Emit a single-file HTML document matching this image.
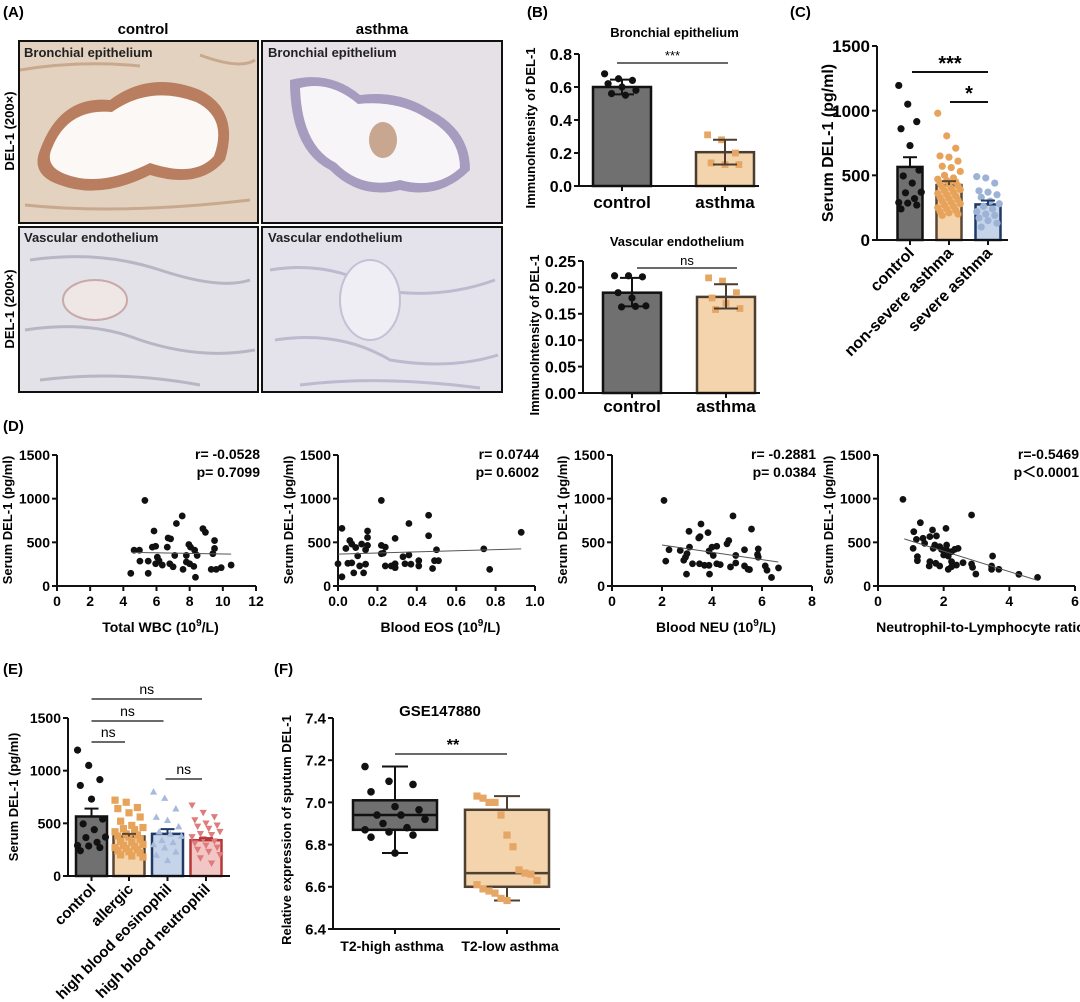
<!DOCTYPE html>
<html><head><meta charset="utf-8"><style>
html,body{margin:0;padding:0;background:#fff;}
svg{display:block;font-family:"Liberation Sans",Arial,sans-serif;font-weight:bold;}
</style></head><body>
<svg id="fig" width="1080" height="1002" viewBox="0 0 1080 1002" xmlns="http://www.w3.org/2000/svg">
<g>
<text x="3" y="17" font-size="15">(A)</text>
<text x="143" y="34" font-size="15" text-anchor="middle">control</text>
<text x="382" y="34" font-size="15" text-anchor="middle">asthma</text>
<text transform="translate(14,131) rotate(-90)" font-size="13" text-anchor="middle">DEL-1 (200×)</text>
<text transform="translate(14,309) rotate(-90)" font-size="13" text-anchor="middle">DEL-1 (200×)</text>
<g>
<rect x="19" y="41" width="239" height="182" fill="#e3d2c0"/>
<path d="M40 150 Q60 95 110 100 Q150 70 200 90 Q240 110 225 160 Q200 190 150 175 Q100 200 60 185 Q30 175 40 150Z" fill="#b0704e" opacity="0.85"/>
<path d="M52 148 Q68 108 112 112 Q150 85 196 102 Q228 118 214 156 Q195 178 150 163 Q100 188 65 174 Q44 166 52 148Z" fill="#fbf8f5"/>
<path d="M20 70 Q80 60 140 66 M25 205 Q120 215 250 200 M200 55 Q240 70 255 60" stroke="#c9a98e" stroke-width="3" fill="none"/>
<rect x="19" y="41" width="239" height="182" fill="none" stroke="#111" stroke-width="2"/>
<text x="24" y="57" font-size="13" fill="#222">Bronchial epithelium</text>
</g>
<g>
<rect x="262" y="41" width="240" height="182" fill="#e5e1e7"/>
<path d="M290 80 Q330 70 360 95 Q400 90 430 110 Q470 130 470 170 Q440 200 400 190 Q360 200 330 170 Q290 150 290 80Z" fill="#8a7fae" opacity="0.7"/>
<path d="M300 88 Q330 80 358 104 Q398 100 426 118 Q460 136 460 168 Q436 190 400 180 Q362 190 336 163 Q302 146 300 88Z" fill="#f7f5f8"/>
<ellipse cx="383" cy="140" rx="14" ry="18" fill="#c8a690"/>
<rect x="262" y="41" width="240" height="182" fill="none" stroke="#111" stroke-width="2"/>
<text x="268" y="57" font-size="13" fill="#222">Bronchial epithelium</text>
</g>
<g>
<rect x="19" y="227" width="239" height="165" fill="#e2e2e8"/>
<path d="M30 260 Q100 250 160 270 Q220 290 250 280 M25 330 Q90 320 140 340 Q200 360 255 350 M40 380 Q120 370 200 385" stroke="#b9b6c4" stroke-width="3" fill="none"/>
<ellipse cx="95" cy="300" rx="32" ry="20" fill="#efe6e6" stroke="#c9a9a9" stroke-width="2"/>
<rect x="19" y="227" width="239" height="165" fill="none" stroke="#111" stroke-width="2"/>
<text x="24" y="242" font-size="13" fill="#222">Vascular endothelium</text>
</g>
<g>
<rect x="262" y="227" width="240" height="165" fill="#e4e3ec"/>
<path d="M270 270 Q330 260 380 290 Q440 300 495 280 M275 340 Q340 330 390 360 Q450 370 498 355 M300 385 Q380 375 480 388" stroke="#bcbacd" stroke-width="3" fill="none"/>
<ellipse cx="370" cy="300" rx="30" ry="40" fill="#efeef4" stroke="#c4c0d6" stroke-width="2"/>
<rect x="262" y="227" width="240" height="165" fill="none" stroke="#111" stroke-width="2"/>
<text x="268" y="242" font-size="13" fill="#222">Vascular endothelium</text>
</g>
</g>
<text x="527" y="17" font-size="15">(B)</text>
<text x="790" y="17" font-size="15">(C)</text>
<text x="3" y="431" font-size="15">(D)</text>
<text x="3" y="674" font-size="15">(E)</text>
<text x="274" y="674" font-size="15">(F)</text>
</svg>
<script>
// ---------- DATA ----------
const bCats = ["control","asthma"];
const bTopMeans = [0.60, 0.205];
const bTopErr = [[0.555,0.645],[0.13,0.28]];
const bTopCtrlPts = [0.68,0.65,0.64,0.62,0.60,0.58,0.56,0.55];
const bTopAsthPts = [0.31,0.28,0.20,0.14,0.13,0.13];
const bTopTicks = [0,0.2,0.4,0.6,0.8];
const bBotMeans = [0.19, 0.182];
const bBotErr = [[0.164,0.218],[0.16,0.206]];
const bBotCtrlPts = [0.222,0.222,0.220,0.19,0.18,0.165,0.163,0.164];
const bBotAsthPts = [0.218,0.212,0.19,0.18,0.17,0.16,0.158];
const bBotTicks = [0,0.05,0.10,0.15,0.20,0.25];
const cCats = ["control","non-severe asthma","severe asthma"];
const cMeans = [565, 425, 275];
const cErr = [[490,640],[395,455],[245,305]];
const ctrlPts = [1195,1050,915,860,730,540,495,440,370,365,320,290,285,270,240];
const nonSevPts = [980,805,710,650,640,610,570,560,530,500,480,470,460,450,440,430,420,410,400,390,380,370,360,350,340,330,320,310,300,290,280,270,260,250,240,230,220,210,200,190];
const sevPts = [490,480,440,380,370,350,330,300,280,260,240,220,200,190,170,150,130,100];
const cTicks = [0,500,1000,1500];
const dWbcX = [5.3,7.55,7.2,8.8,8.95,5.85,6.7,6.85,9.5,4.65,4.97,5.75,5.95,6.65,7.95,8.05,8.3,9.5,9.4,5,5.5,5.95,6.15,6.05,7.1,7.8,8.45,6.35,6.8,7,7.8,8,8.25,7.6,9.3,9.6,9.9,10.5,4.45,5.5,8.35];
const dWbcY = [980,802,716,656,615,630,550,540,520,410,410,445,455,445,475,445,410,430,370,285,285,255,290,330,350,350,350,240,255,220,275,255,225,190,190,190,210,240,145,145,100];
const dEosX = [0.02,0.22,0.46,0.36,0.93,0.15,0.15,0.29,0.46,0.06,0.07,0.12,0.15,0.22,0.24,0.04,0.09,0.14,0.5,0.74,0.22,0.23,0.36,0.33,0.1,0,0.05,0.07,0.11,0.14,0.29,0.24,0.27,0.34,0.37,0.41,0.41,0.49,0.51,0.29,0.48,0.77,0.08,0.13,0.02];
const dEosY = [660,980,810,716,615,630,555,545,575,520,480,480,465,465,445,430,440,415,415,425,370,375,355,335,345,255,260,265,230,250,255,230,230,255,250,290,230,290,290,210,200,190,150,150,105];
const dNeuX = [2.08,4.84,3.56,5.58,3.08,3.84,3.52,3.47,4.67,4.6,4.19,4.0,2.28,2.73,3.0,3.1,3.88,4.05,4.95,5.3,5.85,5.82,5.85,2.15,2.87,2.94,3.22,3.5,3.7,3.88,4.19,4.33,4.74,4.95,5.3,5.44,5.5,6.13,6.2,6.66,2.98,3.9,6.38];
const dNeuY = [980,802,710,652,626,611,565,550,520,482,455,445,415,407,370,445,400,350,350,415,425,360,330,285,295,330,255,255,237,237,255,245,218,263,230,192,188,230,181,207,136,136,98];
const dNlrX = [0.76,2.85,1.29,1.09,1.66,2.07,1.78,1.17,1.37,1.58,1.42,1.73,1.68,1.88,1.93,2.09,2.24,2.34,2.44,2.09,2.0,2.14,1.07,1.2,1.2,1.58,1.56,1.76,1.88,2.24,2.24,2.14,2.39,2.59,2.85,2.88,2.98,3.49,3.46,3.46,3.68,4.29,4.86];
const dNlrY = [992,813,725,622,641,660,573,534,546,565,489,469,431,450,420,412,393,420,431,469,355,343,431,336,290,279,229,260,229,279,221,191,240,267,252,214,137,343,229,191,191,134,99];
const dStats = [["r= -0.0528","p= 0.7099"],["r= 0.0744","p= 0.6002"],["r= -0.2881","p= 0.0384"],["r=-0.5469","p\uFF1C0.0001"]];
const dTitles = ["Total WBC (10","Blood EOS (10","Blood NEU (10","Neutrophil-to-Lymphocyte ratio"];
const dTrendX = [[4.5,10.5],[0,0.93],[2.0,6.65],[0.8,4.85]];
const dTrendY = [[385,365],[365,425],[470,275],[540,65]];
const dXTicks = [["0","2","4","6","8","10","12"],["0.0","0.2","0.4","0.6","0.8","1.0"],["0","2","4","6","8"],["0","2","4","6"]];
const dXMax = [12,1.0,8,6];
const dYTicks = [0,500,1000,1500];
const eCats = ["control","allergic","high blood eosinophil","high blood neutrophil"];
const eMeans = [565, 375, 400, 340];
const eErr = [[490,640],[350,400],[355,445],[320,360]];
const eAllergicPts = [720,700,650,640,600,560,520,480,460,450,440,420,400,390,380,370,350,330,320,300,290,280,270,260,250,240,230,220,200,190,180];
const eEosPts = [800,740,640,560,530,470,420,400,380,340,320,300,270,230,200,150];
const eNeuPts = [670,600,560,530,500,480,470,450,420,400,390,370,350,330,310,290,270,250,230,200,170,120];
const eSig = [[0,1,"ns",742],[0,2,"ns",721],[0,3,"ns",699],[2,3,"ns",779]];
const fCats = ["T2-high asthma","T2-low asthma"];
const fQ1 = [6.87, 6.60];
const fMed = [6.94, 6.665];
const fQ3 = [7.01, 6.965];
const fMin = [6.76, 6.535];
const fMax = [7.17, 7.03];
const fHighPts = [7.17,7.10,7.085,7.05,6.98,6.965,6.94,6.94,6.92,6.90,6.88,6.87,6.86,6.845,6.835,6.76];
const fLowPts = [7.03,7.02,7.0,7.0,6.94,6.845,6.79,6.68,6.665,6.66,6.63,6.61,6.59,6.58,6.57,6.545,6.535];
const fTicks = ["6.4","6.6","6.8","7.0","7.2","7.4"];

// ---------- HELPERS ----------
const NS = "http://www.w3.org/2000/svg";
const svg = document.getElementById("fig");
function mk(tag, attrs, parent){const e=document.createElementNS(NS,tag);for(const k in attrs)e.setAttribute(k,attrs[k]);(parent||svg).appendChild(e);return e;}
function lin(d0,d1,r0,r1){return v=>r0+(v-d0)*(r1-r0)/(d1-d0);}
function jit(i,w){return (((i*37)%11)/10-0.5)*w;}
function txt(x,y,s,size,anchor,parent,extra){const t=mk("text",Object.assign({x:x,y:y,"font-size":size,"text-anchor":anchor||"start"},extra||{}),parent);t.textContent=s;return t;}
function marker(g,shape,cx,cy,r,fill){
  let e;
  if(shape==="circle"){e=mk("circle",{cx:cx,cy:cy,r:r,fill:fill},g);}
  else if(shape==="square"){e=mk("rect",{x:cx-r,y:cy-r,width:2*r,height:2*r,fill:fill},g);}
  else if(shape==="tri"){e=mk("polygon",{points:`${cx},${cy-r} ${cx-r},${cy+r*0.8} ${cx+r},${cy+r*0.8}`,fill:fill},g);}
  else {e=mk("polygon",{points:`${cx},${cy+r} ${cx-r},${cy-r*0.8} ${cx+r},${cy-r*0.8}`,fill:fill},g);}
  
  
  return e;
}
function yAxis(g,ax,y,ticks,labels,size,top,bot){
  const l=mk("line",{x1:ax,x2:ax,y1:y(top),y2:y(bot),stroke:"#111","stroke-width":2},g);
  
  
  ticks.forEach((t,i)=>{mk("line",{x1:ax-5,x2:ax,y1:y(t),y2:y(t),stroke:"#111","stroke-width":2},g);
    const tl=txt(ax-7,y(t)+size*0.36,labels[i],size,"end",g);
    
    });
}
function errbar(g,cx,y,lo,hi,w,col){
  mk("line",{x1:cx,x2:cx,y1:y(lo),y2:y(hi),stroke:col,"stroke-width":2},g);
  mk("line",{x1:cx-w,x2:cx+w,y1:y(hi),y2:y(hi),stroke:col,"stroke-width":2},g);
  mk("line",{x1:cx-w,x2:cx+w,y1:y(lo),y2:y(lo),stroke:col,"stroke-width":2},g);
}

// ---------- PANEL B ----------
function panelB(name,ax,zeroY,topY,ymax,ticks,dec,means,err,ptsA,ptsB,centers,bw,title,titleY,sigY,sigX,sig,labelY){
  const g=mk("g",{});
  
  
  const y=lin(0,ymax,zeroY,topY);
  const fills=["#707070","#f3d4ad"],strokes=["#111","#4a3c2e"];
  means.forEach((m,i)=>{
    const r=mk("rect",{x:centers[i]-bw/2,y:y(m),width:bw,height:y(0)-y(m),fill:fills[i],stroke:strokes[i],"stroke-width":2.5},g);
    
    
  });
  ptsA.forEach((v,i)=>marker(g,"circle",centers[0]+jit(i,bw*0.6),y(v),3.6,"#111"));
  ptsB.forEach((v,i)=>marker(g,"square",centers[1]+jit(i,bw*0.6),y(v),3.4,"#e6a766"));
  errbar(g,centers[0],y,err[0][0],err[0][1],12,"#111");
  errbar(g,centers[1],y,err[1][0],err[1][1],12,"#4a3c2e");
  yAxis(g,ax,y,ticks,ticks.map(t=>t.toFixed(dec)),16,ymax,0);
  mk("line",{x1:ax,x2:centers[1]+bw/2+5,y1:y(0),y2:y(0),stroke:"#111","stroke-width":2},g);
  centers.forEach((c,i)=>{mk("line",{x1:c,x2:c,y1:y(0),y2:y(0)+5,stroke:"#111","stroke-width":2},g);
    const t=txt(c,labelY,bCats[i],17,"middle",g);
    
    });
  const tt=txt((ax+centers[1]+bw/2)/2+8,titleY,title,13,"middle",g);
  
  
  mk("line",{x1:sigX[0],x2:sigX[1],y1:sigY,y2:sigY,stroke:"#111","stroke-width":1.3},g);
  const st=txt((sigX[0]+sigX[1])/2,sigY-3,sig,13,"middle",g,{"font-weight":"normal"});
  
  
  const yt=txt(0,0,"ImmunoIntensity of DEL-1",13,"middle",g,{transform:`translate(${ax-44},${(zeroY+topY)/2+8}) rotate(-90)`});
  
  
}
panelB("panel-b-top",579,186,54,0.8,bTopTicks,1,bTopMeans,bTopErr,bTopCtrlPts,bTopAsthPts,[622,725],58,"Bronchial epithelium",37,63,[617,728],"***",208);
panelB("panel-b-bottom",583,393,261,0.25,bBotTicks,2,bBotMeans,bBotErr,bBotCtrlPts,bBotAsthPts,[632,726],58,"Vascular endothelium",246,268,[637,737],"ns",412);

// ---------- PANEL C / E ----------
function dotBars(name,ax,zeroY,topY,xEnd,centers,bw,means,err,sets,shapes,fills,strokes,ptcol,cats,fs,lfs,ytitleX,ytfs){
  const g=mk("g",{});
  
  
  const y=lin(0,1500,zeroY,topY);
  means.forEach((m,i)=>{
    const r=mk("rect",{x:centers[i]-bw/2,y:y(m),width:bw,height:y(0)-y(m),fill:fills[i],stroke:strokes[i],"stroke-width":2.5},g);
    
    
  });
  sets.forEach((pts,k)=>pts.forEach((v,i)=>marker(g,shapes[k],centers[k]+jit(i,bw*0.9),y(v),3.6,ptcol[k])));
  means.forEach((m,i)=>{mk("line",{x1:centers[i],x2:centers[i],y1:y(m),y2:y(err[i][1]),stroke:strokes[i],"stroke-width":2},g);
    mk("line",{x1:centers[i]-7,x2:centers[i]+7,y1:y(err[i][1]),y2:y(err[i][1]),stroke:strokes[i],"stroke-width":2},g);});
  yAxis(g,ax,y,cTicks,cTicks.map(String),fs,1500,0);
  mk("line",{x1:ax,x2:xEnd,y1:y(0),y2:y(0),stroke:"#111","stroke-width":2},g);
  centers.forEach((c,i)=>{mk("line",{x1:c,x2:c,y1:y(0),y2:y(0)+5,stroke:"#111","stroke-width":2},g);
    const t=txt(0,0,cats[i],lfs,"end",g,{transform:`translate(${c+5},${y(0)+14}) rotate(-45)`});
    
    });
  const yt=txt(0,0,"Serum DEL-1 (pg/ml)",ytfs,"middle",g,{transform:`translate(${ytitleX},${(zeroY+topY)/2}) rotate(-90)`});
  
  
  return {g:g,y:y};
}
const C=dotBars("panel-c",877,240,46,1008,[910,949,988],25,cMeans,cErr,[ctrlPts,nonSevPts,sevPts],["circle","circle","circle"],["#707070","#f3d4ad","#c6d4ea"],["#111","#5a4632","#1f3a66"],["#111","#e8a35a","#9db3d6"],cCats,17,16,833,16);
[[912,988,72,"***"],[950,988,102,"*"]].forEach(s=>{mk("line",{x1:s[0],x2:s[1],y1:s[2],y2:s[2],stroke:"#111","stroke-width":2},C.g);
  const t=txt((s[0]+s[1])/2,s[2]-2,s[3],20,"middle",C.g);
  
  });

const E=dotBars("panel-e",68,876,718,230,[91.5,129,167.5,206],31,eMeans,eErr,[ctrlPts,eAllergicPts,eEosPts,eNeuPts],["circle","square","tri","itri"],["#707070","#f3d4ad","#c6d4ea","#f3c6c6"],["#111","#5a4632","#1f3a66","#b53838"],["#111","#e8a35a","#a6bbdc","#e07b7b"],eCats,14,15,18,13);
const eCent=[91.5,129,167.5,206];
eSig.forEach(s=>{const x1=eCent[s[0]]+(s[0]===0?0:-2),x2=eCent[s[1]]-4;
  mk("line",{x1:x1,x2:x2,y1:s[3],y2:s[3],stroke:"#111","stroke-width":1.3},E.g);
  const t=txt((x1+x2)/2,s[3]-5,s[2],14,"middle",E.g,{"font-weight":"normal"});
  
  });

// ---------- PANEL D ----------
const dAxes=[[57,256],[338,535],[612,812],[878,1075]];
const dXs=[dWbcX,dEosX,dNeuX,dNlrX], dYs=[dWbcY,dEosY,dNeuY,dNlrY];
dAxes.forEach((a,k)=>{
  const g=mk("g",{});
  
  
  const x=lin(0,dXMax[k],a[0],a[1]), y=lin(0,1500,586,455);
  yAxis(g,a[0],y,dYTicks,dYTicks.map(String),14,1500,0);
  mk("line",{x1:a[0],x2:a[1],y1:586,y2:586,stroke:"#111","stroke-width":2},g);
  const n=dXTicks[k].length;
  dXTicks[k].forEach((lab,i)=>{const v=dXMax[k]*i/(n-1);
    mk("line",{x1:x(v),x2:x(v),y1:586,y2:591,stroke:"#111","stroke-width":2},g);
    const t=txt(x(v),606,lab,14,"middle",g);
    
    });
  dXs[k].forEach((xv,i)=>marker(g,"circle",x(xv),y(dYs[k][i]),3.4,"#111"));
  const tr=mk("line",{x1:x(dTrendX[k][0]),x2:x(dTrendX[k][1]),y1:y(dTrendY[k][0]),y2:y(dTrendY[k][1]),stroke:"#555","stroke-width":1},g);
  
  
  const s1=txt(a[1]+4,459,dStats[k][0],14,"end",g);  
  const s2=txt(a[1]+4,477,dStats[k][1],14,"end",g);  
  const xt=mk("text",{x:(a[0]+a[1])/2+4,y:632,"font-size":14,"text-anchor":"middle"},g);
  
  
  if(k<3){xt.appendChild(document.createTextNode(dTitles[k]));
    const sp=document.createElementNS(NS,"tspan");sp.setAttribute("dy","-6");sp.setAttribute("font-size","10");sp.textContent="9";xt.appendChild(sp);
    const sp2=document.createElementNS(NS,"tspan");sp2.setAttribute("dy","6");sp2.textContent="/L)";xt.appendChild(sp2);}
  else xt.textContent=dTitles[k];
  const yt=txt(0,0,"Serum DEL-1 (pg/ml)",13,"middle",g,{transform:`translate(${a[0]-45},${520}) rotate(-90)`});
  
  
});

// ---------- PANEL F ----------
(function(){
  const g=mk("g",{});
  
  
  const y=lin(6.4,7.4,929,718), cx=[395,507], bw=84;
  const fills=["#707070","#f3d4ad"], strokes=["#111","#4f4030"];
  fCats.forEach((c,i)=>{
    mk("line",{x1:cx[i],x2:cx[i],y1:y(fMin[i]),y2:y(fMax[i]),stroke:strokes[i],"stroke-width":2},g);
    mk("line",{x1:cx[i]-13,x2:cx[i]+13,y1:y(fMin[i]),y2:y(fMin[i]),stroke:strokes[i],"stroke-width":2},g);
    mk("line",{x1:cx[i]-13,x2:cx[i]+13,y1:y(fMax[i]),y2:y(fMax[i]),stroke:strokes[i],"stroke-width":2},g);
    const b=mk("rect",{x:cx[i]-bw/2,y:y(fQ3[i]),width:bw,height:y(fQ1[i])-y(fQ3[i]),fill:fills[i],stroke:strokes[i],"stroke-width":2.5},g);
    
    
    mk("line",{x1:cx[i]-bw/2,x2:cx[i]+bw/2,y1:y(fMed[i]),y2:y(fMed[i]),stroke:strokes[i],"stroke-width":2.5},g);
    const t=txt(cx[i]+(i===0?-3:3),951,c,14,"middle",g);
    
    
  });
  fHighPts.forEach((v,i)=>marker(g,"circle",cx[0]+jit(i,60),y(v),3.8,"#111"));
  fLowPts.forEach((v,i)=>marker(g,"square",cx[1]+jit(i*3,60),y(v),3.6,"#e6a766"));
  yAxis(g,333,y,[6.4,6.6,6.8,7.0,7.2,7.4],fTicks,15,7.4,6.4);
  mk("line",{x1:333,x2:560,y1:929,y2:929,stroke:"#111","stroke-width":2},g);
  cx.forEach(c=>mk("line",{x1:c,x2:c,y1:929,y2:934,stroke:"#111","stroke-width":2},g));
  const tt=txt(440,716,"GSE147880",15,"middle",g);
  
  
  mk("line",{x1:395,x2:507,y1:754,y2:754,stroke:"#111","stroke-width":1.3},g);
  const st=txt(453,750,"**",16,"middle",g);
  
  
  const yt=txt(0,0,"Relative expression of sputum DEL-1",13,"middle",g,{transform:`translate(291,830) rotate(-90)`});
  
  
})();
</script>
</body></html>
